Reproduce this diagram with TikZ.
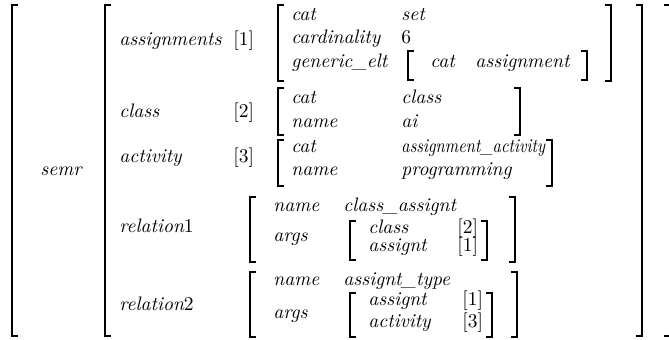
\documentclass[tikz,border=0pt]{standalone}
\usepackage{tikz}
\usepackage{graphicx}

\begin{document}
\begin{tikzpicture}[x=0.5pt, y=-0.5pt,
	brk/.style = {line width=1pt},
	txt/.style = {font=\fontsize{9.75}{12}\selectfont\itshape, anchor=base west, inner sep=0pt},
	num/.style = {font=\fontsize{9.75}{12}\selectfont, anchor=base west, inner sep=0pt}]
	\useasboundingbox (0,0) rectangle (669,339);
	% outer brackets
	\draw[brk] (18,5) -| (12,336) -- (18,336);
	\draw[brk] (664,5) -| (670.5,336) -- (664,336);
	\node[txt] (semr) at (40,175) {semr};
	% second level
	\draw[brk] (111,5) -| (105,336) -- (111,336);
	\draw[brk] (636,5) -| (642,336) -- (636,336);
	\node[txt] (assignments) at (119,45) {assignments};
	\node[txt] (class) at (119,117) {class};
	\node[txt] (activity) at (119,162) {activity};
	\node[txt] (relation1) at (119,232) {relation\upshape 1};
	\node[txt] (relation2) at (119,310) {relation\upshape 2};
	\node[num] (tag1) at (233,45) {[1]};
	\node[num] (tag2) at (233,117) {[2]};
	\node[num] (tag3) at (233,162) {[3]};
	% [1] assignments
	\draw[brk] (284,5) -| (278,81) -- (284,81);
	\draw[brk] (605,5) -| (611,81) -- (605,81);
	\node[txt] (a-cat) at (291,20) {cat};
	\node[txt] (a-set) at (401,20) {set};
	\node[txt] (a-card) at (291,43) {cardinality};
	\node[num] (a-six) at (401,43) {6};
	\node[txt] (a-gen) at (291,67) {generic\_elt};
	\draw[brk] (414,51) -| (408,80) -- (414,80);
	\draw[brk] (581,51) -| (587,80) -- (581,80);
	\node[txt] (g-cat) at (430,67) {cat};
	\node[txt] (g-val) at (475,67) {assignment};
	% [2] class
	\draw[brk] (284,88) -| (278,135) -- (284,135);
	\draw[brk] (514,88) -| (520,135) -- (514,135);
	\node[txt] (c-cat) at (291,103) {cat};
	\node[txt] (c-val) at (401,103) {class};
	\node[txt] (c-name) at (291,127) {name};
	\node[txt] (c-ai) at (401,127) {ai};
	% [3] activity
	\draw[brk] (284,140) -| (278,186) -- (284,186);
	\draw[brk] (546,140) -| (552,186) -- (546,186);
	\node[txt] (t-cat) at (291,152) {cat};
	\node[txt] (t-val) at (401,152) {\scalebox{0.84}[1]{assignment\_activity}};
	\node[txt] (t-name) at (291,175) {name};
	\node[txt] (t-prog) at (401,175) {programming};
	% relation1
	\draw[brk] (256,197) -| (250,262) -- (256,262);
	\draw[brk] (509,197) -| (515,262) -- (509,262);
	\node[txt] (r1-name) at (273,211) {name};
	\node[txt] (r1-val) at (343,211) {class\_assignt};
	\node[txt] (r1-args) at (273,241) {args};
	\draw[brk] (356,221) -| (350,260) -- (356,260);
	\draw[brk] (481,221) -| (487,260) -- (481,260);
	\node[txt] (r1-class) at (368,233) {class};
	\node[num] (r1-two) at (457,233) {[2]};
	\node[txt] (r1-asg) at (368,251) {assignt};
	\node[num] (r1-one) at (457,251) {[1]};
	% relation2
	\draw[brk] (256,272) -| (250,337) -- (256,337);
	\draw[brk] (511,272) -| (517,337) -- (511,337);
	\node[txt] (r2-name) at (273,285) {name};
	\node[txt] (r2-val) at (343,285) {assignt\_type};
	\node[txt] (r2-args) at (273,318) {args};
	\draw[brk] (356,293) -| (350,337) -- (356,337);
	\draw[brk] (486,293) -| (492,337) -- (486,337);
	\node[txt] (r2-asg) at (368,305) {assignt};
	\node[num] (r2-one) at (462,305) {[1]};
	\node[txt] (r2-act) at (368,327) {activity};
	\node[num] (r2-three) at (462,327) {[3]};
\end{tikzpicture}
\end{document}
